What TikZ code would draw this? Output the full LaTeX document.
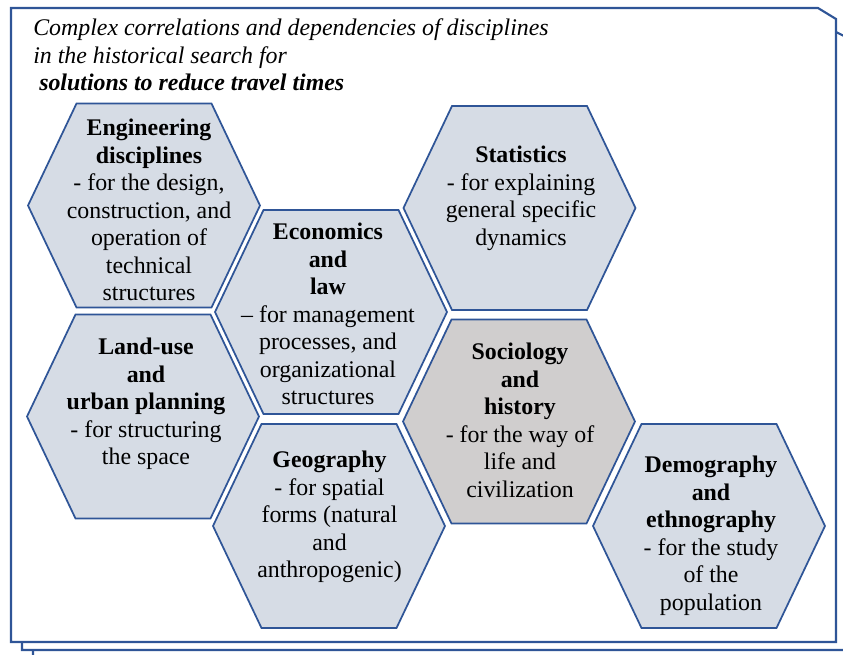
\documentclass[tikz,border=0pt]{standalone}
\usepackage{fontspec}
\setmainfont{Liberation Serif}
\usetikzlibrary{calc}

\definecolor{edgeblue}{HTML}{2F5597}
\definecolor{cellblue}{HTML}{D6DCE5}
\definecolor{cellgray}{HTML}{D0CECE}

\begin{document}
\begin{tikzpicture}[x=0.75pt, y=-0.75pt,
    frame/.style={draw=edgeblue, line width=1.6pt, fill=white},
    cell/.style={draw=edgeblue, line width=1.3pt},
    label/.style={align=center, anchor=north, inner sep=0pt,
      font=\fontsize{17.9}{20.6}\selectfont}]
  \useasboundingbox (0,0) rectangle (843,654);
  % stacked sheets, the front one with a cut corner
  \draw[frame] (33,40) -- (838,40) -- (858,50) -- (858,662) -- (33,662) -- cycle;
  \draw[frame] (22,27) -- (826,27) -- (846,37) -- (846,650) -- (22,650) -- cycle;
  \draw[frame] (11,8) -- (818,8) -- (836,19) -- (836,642) -- (11,642) -- cycle;
  % heading
  \node[anchor=north west, align=left, inner sep=0pt,
    font=\fontsize{17.9}{20.6}\selectfont\itshape] (title) at (33,18.5)
    {Complex correlations and dependencies of disciplines\\
     in the historical search for\\
     \hspace*{4.5pt}\textbf{solutions to reduce travel times}};

  % centres of the cells
  \coordinate (eng) at (144,205.5);
  \coordinate (stat) at (519.5,208);
  \coordinate (econ) at (331,312);
  \coordinate (land) at (143,416.5);
  \coordinate (socio) at (519,421.5);
  \coordinate (geo) at (329,526);
  \coordinate (demo) at (709,526);
  % hexagonal cells
  \foreach \c/\f in {eng/cellblue, stat/cellblue, econ/cellblue, land/cellblue,
      socio/cellgray, geo/cellblue, demo/cellblue}
    \draw[cell, fill=\f] ($(\c)+(-116,0)$) -- ++(48.5,-102) -- ++(135,0)
      -- ++(48.5,102) -- ++(-48.5,102) -- ++(-135,0) -- cycle;

  % texts of the cells
  \node[label] (engtxt) at (149,119) {\textbf{Engineering}\\ \textbf{disciplines}\\
    - for the design,\\ construction, and\\ operation of\\ technical\\ structures};
  \node[label] (stattxt) at (521,146) {\textbf{Statistics}\\ - for explaining\\
    general specific\\ dynamics};
  \node[label] (econtxt) at (328,223) {\textbf{Economics}\\ \textbf{and}\\ \textbf{law}\\
    -- for management\\ processes, and\\ organizational\\ structures};
  \node[label] (landtxt) at (146,338) {\textbf{Land-use}\\ \textbf{and}\\
    \textbf{urban planning}\\ - for structuring\\ the space};
  \node[label] (sociotxt) at (520,343) {\textbf{Sociology}\\ \textbf{and}\\ \textbf{history}\\
    - for the way of\\ life and\\ civilization};
  \node[label] (geotxt) at (329.5,451) {\textbf{Geography}\\ - for spatial\\
    forms (natural\\ and\\ anthropogenic)};
  \node[label] (demotxt) at (711,456) {\textbf{Demography}\\ \textbf{and}\\
    \textbf{ethnography}\\ - for the study\\ of the\\ population};
\end{tikzpicture}
\end{document}
